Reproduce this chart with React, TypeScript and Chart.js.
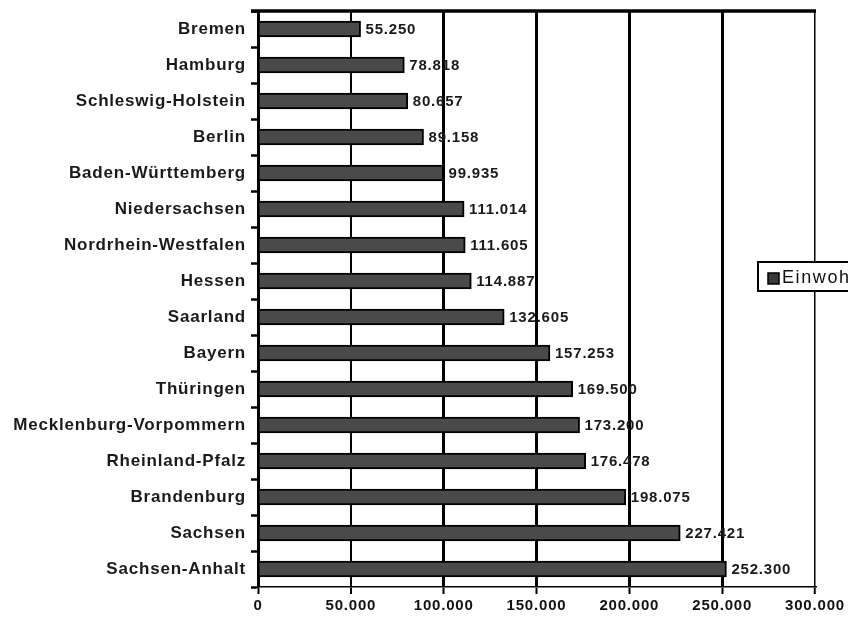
import React, { useEffect, useRef } from "react";
import { Chart, registerables } from "chart.js";

Chart.register(...registerables);

const states = [
  "Bremen",
  "Hamburg",
  "Schleswig-Holstein",
  "Berlin",
  "Baden-Württemberg",
  "Niedersachsen",
  "Nordrhein-Westfalen",
  "Hessen",
  "Saarland",
  "Bayern",
  "Thüringen",
  "Mecklenburg-Vorpommern",
  "Rheinland-Pfalz",
  "Brandenburg",
  "Sachsen",
  "Sachsen-Anhalt",
];

const residents = [
  55250, 78818, 80657, 89158, 99935, 111014, 111605, 114887, 132605, 157253,
  169500, 173200, 176478, 198075, 227421, 252300,
];

const seriesName = "Einwohner";
const xMax = 300000;
const xStep = 50000;

const fmt = (v: number) =>
  v === 0 ? "0" : Math.floor(v / 1000) + "." + String(v % 1000).padStart(3, "0");

const FONT = "'Liberation Sans', Arial, sans-serif";

// Slightly widened letter spacing for the axis texts
const spacingPlugin = {
  id: "spacing",
  beforeLayout(chart: any) {
    chart.ctx.letterSpacing = "0.8px";
  },
  beforeDraw(chart: any) {
    chart.ctx.letterSpacing = "0.8px";
  },
};

// Value labels, top frame line and clipped legend box
const overlayPlugin = {
  id: "overlay",
  afterDatasetsDraw(chart: any) {
    const { ctx, chartArea } = chart;
    const meta = chart.getDatasetMeta(0);
    ctx.save();
    ctx.letterSpacing = "0.8px";
    ctx.font = `bold 15px ${FONT}`;
    ctx.fillStyle = "#1a1a1a";
    ctx.textBaseline = "middle";
    ctx.textAlign = "left";
    meta.data.forEach((bar: any, i: number) => {
      ctx.fillText(fmt(residents[i]), bar.x + 5, bar.y + 1);
    });
    // heavy top frame
    ctx.strokeStyle = "#000";
    ctx.lineWidth = 3.5;
    ctx.beginPath();
    ctx.moveTo(chartArea.left - 7, chartArea.top);
    ctx.lineTo(chartArea.right + 1, chartArea.top);
    ctx.stroke();
    // legend box
    const lx = chartArea.right - 57;
    const ly = 262;
    ctx.fillStyle = "#fff";
    ctx.fillRect(lx, ly, 120, 29);
    ctx.lineWidth = 2;
    ctx.strokeRect(lx, ly, 120, 29);
    ctx.fillStyle = "#3a3a3a";
    ctx.fillRect(lx + 10, ly + 11, 11, 11);
    ctx.lineWidth = 1.5;
    ctx.strokeRect(lx + 10, ly + 11, 11, 11);
    ctx.fillStyle = "#111";
    ctx.letterSpacing = "1.6px";
    ctx.font = `18px ${FONT}`;
    ctx.fillText(seriesName, lx + 24, ly + 16);
    ctx.restore();
  },
};

export default function App() {
  const canvasRef = useRef<HTMLCanvasElement | null>(null);

  useEffect(() => {
    document.body.style.margin = "0";
    const canvas = canvasRef.current;
    if (!canvas) return;
    const chart = new Chart(canvas, {
      type: "bar",
      data: {
        labels: states,
        datasets: [
          {
            label: seriesName,
            data: residents,
            backgroundColor: "#4a4a4a",
            borderColor: "#000000",
            borderWidth: 2,
            barThickness: 16,
          },
        ],
      },
      options: {
        indexAxis: "y",
        animation: false,
        responsive: false,
        layout: { padding: { top: 11, right: 33, left: 0, bottom: 0 } },
        plugins: {
          legend: { display: false },
          tooltip: { enabled: false },
        },
        scales: {
          x: {
            min: 0,
            max: xMax,
            ticks: {
              stepSize: xStep,
              color: "#111",
              font: { family: FONT, size: 15, weight: "bold" },
              padding: 3,
              maxRotation: 0,
              callback: (v: any) => fmt(Number(v)),
            },
            grid: {
              color: "#000",
              lineWidth: (c: any) => {
                const v = c.tick ? c.tick.value : 0;
                if (v === xMax) return 1.5;
                if (v === xStep) return 2;
                return 3;
              },
              tickLength: 7,
              tickColor: "#000",
              tickWidth: 2,
            },
            border: { color: "#000", width: 1.5 },
            afterFit: (s: any) => {
              s.height = 36;
            },
          },
          y: {
            offset: true,
            ticks: {
              color: "#1a1a1a",
              font: { family: FONT, size: 17, weight: "bold" },
              padding: 5,
            },
            grid: {
              offset: true,
              drawOnChartArea: false,
              tickLength: 7,
              tickColor: "#000",
              tickWidth: 2.5,
            },
            border: { color: "#000", width: 1.5 },
            afterFit: (s: any) => {
              s.width = 258;
              s.paddingTop = 0;
              s.paddingBottom = 0;
            },
          },
        },
      },
      plugins: [spacingPlugin, overlayPlugin],
    });
    return () => chart.destroy();
  }, []);

  return (
    <div style={{ width: 848, height: 623, background: "#fff" }}>
      <canvas ref={canvasRef} width={848} height={623} style={{ display: "block" }} />
    </div>
  );
}
